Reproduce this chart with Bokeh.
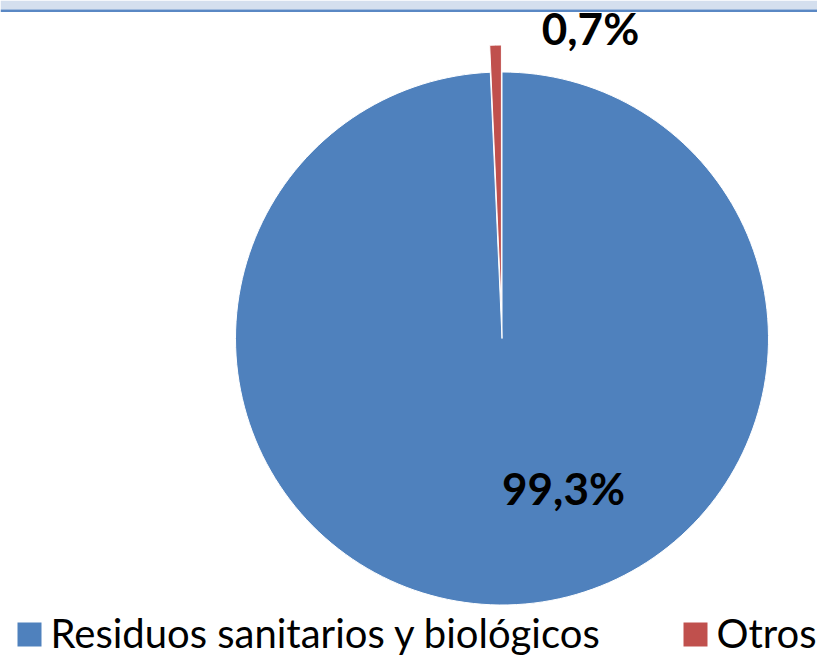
import math
from bokeh.plotting import figure
from bokeh.models import ColumnDataSource, Range1d, BoxAnnotation
from bokeh.core.properties import value
from bokeh.embed import file_html
from bokeh.resources import INLINE

# ---- data ----
categories = ["Residuos sanitarios y biológicos", "Otros"]
values = [99.3, 0.7]
labels = ["99,3%", "0,7%"]
colors = ["#4F81BD", "#C0504D"]

# ---- layout / style (picture pixel based, y measured from the bottom) ----
W, H = 817, 657
cx, cy = 501.5, H - 338.0
R = 266.5
explode = [0.0, 27.0]
label_offsets = [(61.5, -149.0), (88.5, 311.0)]
FONT = "Lato"

p = figure(width=W, height=H, output_backend="svg", toolbar_location=None,
           x_range=Range1d(0, W), y_range=Range1d(0, H),
           x_axis_type=None, y_axis_type=None, min_border=0,
           outline_line_color=None, background_fill_color="white",
           border_fill_color="white")
p.grid.visible = False

# top band
p.add_layout(BoxAnnotation(bottom=H - 9, top=H, fill_color="#D4DFEE",
                           fill_alpha=1, line_color=None))
p.add_layout(BoxAnnotation(bottom=H - 11.5, top=H - 9, fill_color="#5A88C4",
                           fill_alpha=1, line_color=None))

total = sum(values)
starts, ends, xs, ys = [], [], [], []
cum = 0.0
for v, ex in zip(values, explode):
    a0 = math.pi / 2 - 2 * math.pi * cum / total
    cum += v
    a1 = math.pi / 2 - 2 * math.pi * cum / total
    mid = (a0 + a1) / 2
    starts.append(a0)
    ends.append(a1)
    xs.append(cx + ex * math.cos(mid))
    ys.append(cy + ex * math.sin(mid))

src = ColumnDataSource(dict(x=xs, y=ys, start=starts, end=ends, color=colors,
                            cat=categories))
p.wedge(x="x", y="y", radius=R, start_angle="start", end_angle="end",
        direction="clock", fill_color="color", line_color="white", line_width=1,
        source=src)

# data labels
lsrc = ColumnDataSource(dict(x=[cx + o[0] for o in label_offsets],
                             y=[cy + o[1] for o in label_offsets],
                             text=labels))
p.text(x="x", y="y", text="text", source=lsrc, text_font=value(FONT),
       text_font_style="bold", text_font_size="44px", text_align="center",
       text_baseline="middle", text_color="black")

# legend (manual)
leg_x = [17, 683]
sq = 24
leg_sq_y = H - 634
lg = ColumnDataSource(dict(x=[lx + sq / 2 for lx in leg_x], y=[leg_sq_y] * len(leg_x),
                           tx=[lx + sq + 9 for lx in leg_x],
                           ty=[H - 632.5] * len(leg_x),
                           color=colors, text=categories))
p.rect(x="x", y="y", width=sq, height=sq, fill_color="color", line_color=None, source=lg)
p.text(x="tx", y="ty", text="text", source=lg, text_font=value(FONT),
       text_font_size="40px", text_align="left", text_baseline="middle",
       text_color="black")

open("out.html", "w").write(file_html(p, INLINE))
